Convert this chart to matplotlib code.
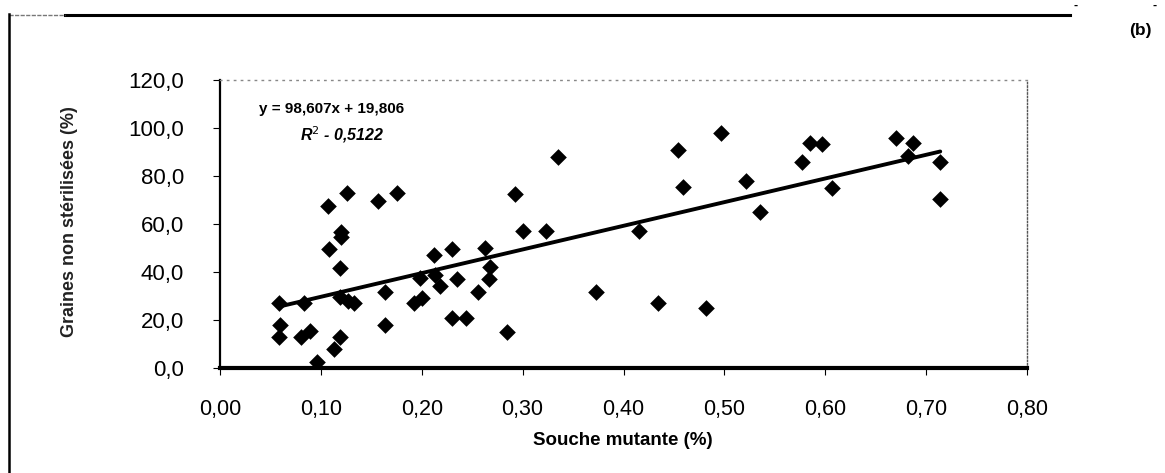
import matplotlib
matplotlib.use("Agg")
import matplotlib.pyplot as plt
from matplotlib.lines import Line2D
from matplotlib.ticker import FuncFormatter
import numpy as np

plt.rcParams['font.family'] = ['Liberation Sans', 'DejaVu Sans']

# Mutant strain proportion (%) vs. non-sterilised seeds (%)
souche_mutante = [
    0.058, 0.059, 0.058, 0.083, 0.080, 0.089, 0.096, 0.107, 0.108, 0.120,
    0.120, 0.119, 0.119, 0.127, 0.133, 0.126, 0.119, 0.113, 0.157, 0.175,
    0.164, 0.164, 0.198, 0.200, 0.192, 0.212, 0.213, 0.218, 0.230, 0.244,
    0.230, 0.235, 0.256, 0.263, 0.268, 0.267, 0.292, 0.285, 0.300, 0.323,
    0.335, 0.373, 0.415, 0.434, 0.454, 0.459, 0.482, 0.497, 0.521, 0.535,
    0.577, 0.585, 0.597, 0.607, 0.670, 0.687, 0.682, 0.714, 0.714,
]
graines_non_sterilisees = [
    27.2, 17.9, 13.0, 27.2, 13.0, 15.5, 2.6, 67.5, 49.6, 56.8,
    54.5, 41.8, 29.7, 28.0, 27.2, 72.8, 13.0, 7.8, 69.7, 72.8,
    31.6, 17.8, 37.4, 29.0, 27.2, 47.1, 38.8, 34.2, 20.7, 20.7,
    49.6, 37.0, 31.8, 49.8, 42.2, 37.0, 72.5, 15.2, 56.9, 57.1,
    88.0, 31.8, 57.1, 27.2, 90.8, 75.3, 24.9, 98.0, 78.0, 64.9,
    86.0, 93.6, 93.3, 75.2, 95.7, 93.9, 88.5, 86.0, 70.3,
]

# Linear trend line
pente = 98.607
ordonnee = 19.806
r2 = 0.5122

x_ticks = [0.0, 0.1, 0.2, 0.3, 0.4, 0.5, 0.6, 0.7, 0.8]
y_ticks = [0, 20, 40, 60, 80, 100, 120]

W, H = 1165, 473
fig = plt.figure(figsize=(W / 100, H / 100), dpi=100)
ax = fig.add_axes([220 / W, 1 - 368 / H, (1027 - 220) / W, (368 - 80) / H])

ax.scatter(souche_mutante, graines_non_sterilisees, marker='D', s=72,
           color='black', linewidths=0, zorder=3)

xs = np.array([min(souche_mutante), max(souche_mutante)])
ax.plot(xs, pente * xs + ordonnee, color='black', lw=2.8, zorder=2,
        solid_capstyle='round')

ax.set_xlim(0, 0.8)
ax.set_ylim(0, 120)
ax.set_xticks(x_ticks)
ax.set_yticks(y_ticks)
ax.xaxis.set_major_formatter(FuncFormatter(lambda v, p: f"{v:.2f}".replace('.', ',')))
ax.yaxis.set_major_formatter(FuncFormatter(lambda v, p: f"{v:.1f}".replace('.', ',')))
ax.tick_params(axis='x', direction='out', length=5, width=0.8, pad=17,
               labelsize=15.5, colors='black')
ax.tick_params(axis='y', direction='out', length=5, width=0.8, pad=21,
               labelsize=16, colors='black')

ax.spines['left'].set_linewidth(1.6)
ax.spines['bottom'].set_linewidth(3.0)
ax.spines['top'].set_color('#888888')
ax.spines['top'].set_linewidth(1.0)
ax.spines['top'].set_linestyle((0, (1, 4)))
ax.spines['right'].set_color('#555555')
ax.spines['right'].set_linewidth(1.0)
ax.spines['right'].set_linestyle((0, (1, 1.5)))

ax.text(0.048, 0.90, f"y = {pente:.3f}x + {ordonnee:.3f}".replace('.', ','),
        transform=ax.transAxes, fontsize=11, fontweight='bold', va='center')
ax.text(0.099, 0.81, f"R$^2$ - {r2:.4f}".replace('.', ','),
        transform=ax.transAxes, fontsize=11.5, fontweight='bold',
        fontstyle='italic', va='center')

fig.text(623 / W, 1 - 440 / H, "Souche mutante (%)", ha='center', va='center',
         fontsize=13.5, fontweight='bold')
fig.text(70 / W, 1 - 222 / H, "Graines non stérilisées (%)", ha='center',
         va='center', rotation=90, fontsize=13, fontweight='bold', color='#222222')

# Outer frame
fig.add_artist(Line2D([65 / W, 1070 / W], [1 - 15 / H, 1 - 15 / H],
                      transform=fig.transFigure, color='black', lw=2.2))
fig.add_artist(Line2D([9 / W, 65 / W], [1 - 15 / H, 1 - 15 / H],
                      transform=fig.transFigure, color='#777777', lw=1.0,
                      linestyle=(0, (3, 1))))
fig.add_artist(Line2D([9 / W, 9 / W], [1 - 14 / H, 0],
                      transform=fig.transFigure, color='black', lw=1.8))

fig.text(1140 / W, 1 - 31 / H, "(b)", ha='center', va='center',
         fontsize=12.5, fontweight='bold')
fig.text(1076 / W, 1 - 6 / H, "-", ha='center', va='center', fontsize=9,
         fontweight='bold')
fig.text(1155 / W, 1 - 6 / H, "-", ha='center', va='center', fontsize=9,
         fontweight='bold')

fig.savefig("out.png", dpi=100, facecolor='white')
